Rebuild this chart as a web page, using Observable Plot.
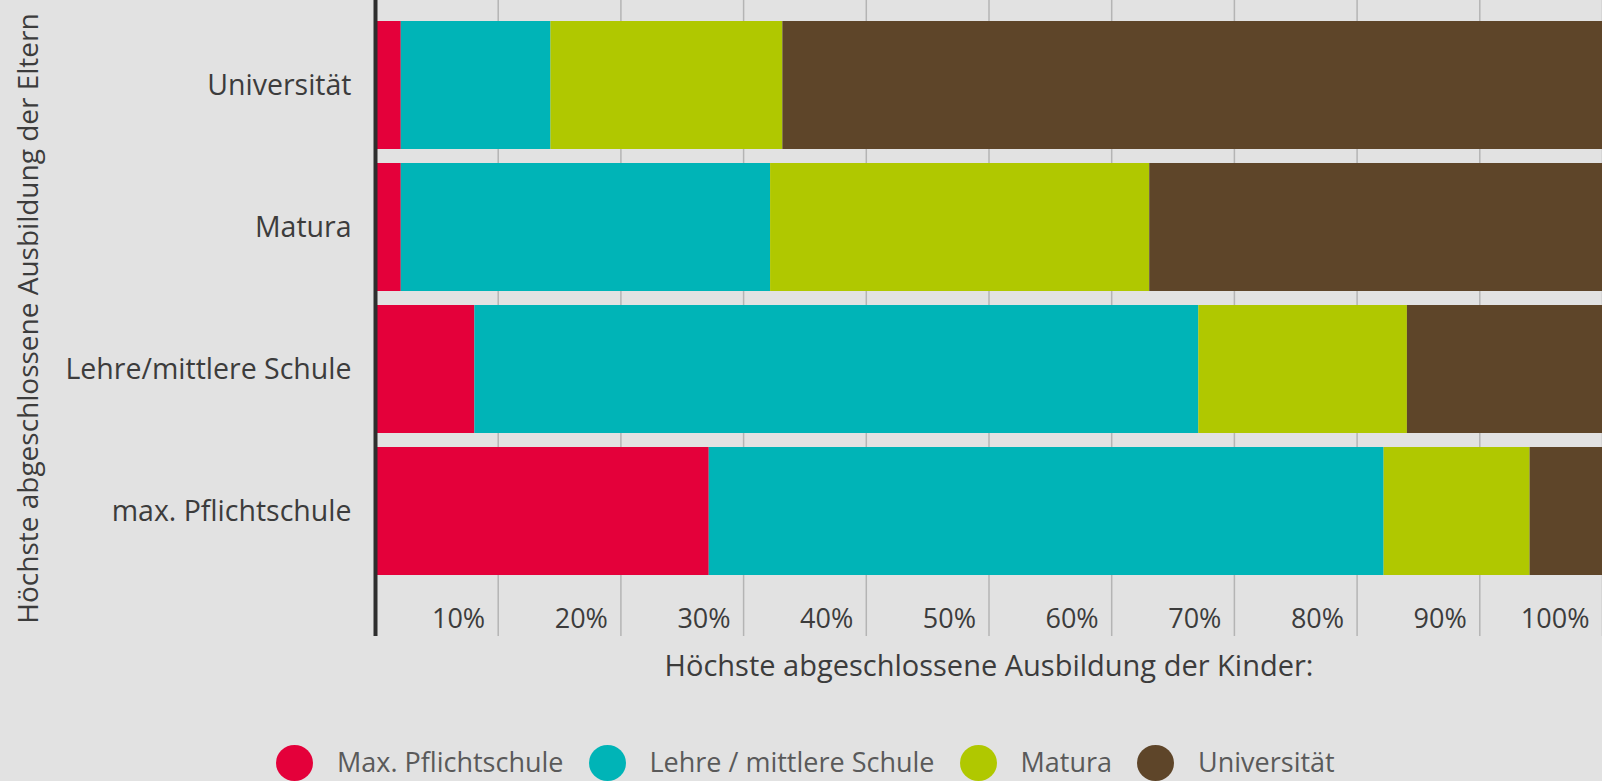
<!DOCTYPE html>
<html>
<head>
<meta charset="utf-8">
<script src="https://cdn.jsdelivr.net/npm/d3@7"></script>
<script src="https://cdn.jsdelivr.net/npm/@observablehq/plot@0.6"></script>
<style>
  html, body { margin: 0; padding: 0; background: #e2e2e2; }
  body { width: 1602px; height: 781px; overflow: hidden; position: relative; font-family: "Open Sans", sans-serif; }
  #chart svg { display: block; }
  #legend { position: absolute; left: 276px; top: 745px; height: 36px; display: flex; align-items: flex-start; gap: 25px; font-size: 27px; line-height: 27px; color: #5a5a5a; white-space: nowrap; }
  #legend .sw { width: 37px; height: 36px; border-radius: 50%; display: inline-block; flex: none; }
  #legend .item { display: flex; align-items: flex-start; gap: 24px; }
  #legend .lab { display: inline-block; padding-top: 3px; }
</style>
</head>
<body>
<div id="chart"></div>
<div id="legend"></div>
<script>
// Parents' highest education (rows, top to bottom)
const parents = ["Universität", "Matura", "Lehre/mittlere Schule", "max. Pflichtschule"];
// Children's highest education (stack segments, legend)
const categories = ["Max. Pflichtschule", "Lehre / mittlere Schule", "Matura", "Universität"];
const colors = ["#e4003a", "#00b4b7", "#b0c800", "#5e4529"];
// Shares in % per parents' row
const pflicht = [2.1, 2.1, 8.1, 27.2];
const lehre   = [12.2, 30.1, 59.0, 55.0];
const matura  = [18.9, 30.9, 17.0, 11.9];
const uni     = [66.8, 36.9, 15.9, 5.9];
const xTicks = [10, 20, 30, 40, 50, 60, 70, 80, 90, 100];
const xTitle = "Höchste abgeschlossene Ausbildung der Kinder:";
const yTitle = "Höchste abgeschlossene Ausbildung der Eltern";

const series = [pflicht, lehre, matura, uni];
const table = [];
parents.forEach((p, i) => {
  categories.forEach((c, j) => {
    table.push({parent: p, child: c, value: series[j][i]});
  });
});

const chart = Plot.plot({
  width: 1602,
  height: 700,
  marginLeft: 375,
  marginRight: 0,
  marginTop: 0,
  marginBottom: 64,
  style: {fontFamily: "Open Sans, sans-serif", fontSize: "27px", color: "#3c3c3c", background: "#e2e2e2"},
  x: {domain: [0, 100]},
  y: {domain: parents, paddingInner: 0.1, paddingOuter: 0.144, insetBottom: 41},
  color: {domain: categories, range: colors},
  marks: [
    Plot.gridX({ticks: xTicks, stroke: "#b4b4b4", strokeOpacity: 1, strokeWidth: 1.5}),
    Plot.barX(table, Plot.stackX({x: "value", y: "parent", fill: "child", order: categories})),
    Plot.ruleX([0], {stroke: "#2e2e2e", strokeWidth: 4}),
    Plot.axisX({ticks: xTicks, tickFormat: d => d + "%", tickSize: 0, tickPadding: 0, dy: -28, dx: -13, textAnchor: "end", label: null, fill: "#3c3c3c"}),
    Plot.axisY({tickSize: 0, tickPadding: 24, fontSize: 28.5, label: null, fill: "#3c3c3c"}),
    Plot.axisY({ticks: [], tickSize: 0, label: yTitle, labelAnchor: "center", labelOffset: 357, labelArrow: "none", fontSize: 28, fill: "#3c3c3c"}),
    Plot.text([xTitle], {frameAnchor: "bottom", lineAnchor: "top", dy: 19, fontSize: 29, fill: "#3c3c3c"})
  ]
});
document.getElementById("chart").appendChild(chart);

const legend = document.getElementById("legend");
categories.forEach((c, i) => {
  const item = document.createElement("div");
  item.className = "item";
  const sw = document.createElement("span");
  sw.className = "sw";
  sw.style.background = colors[i];
  const label = document.createElement("span");
  label.className = "lab";
  label.textContent = c;
  item.appendChild(sw);
  item.appendChild(label);
  legend.appendChild(item);
});
</script>
</body>
</html>
